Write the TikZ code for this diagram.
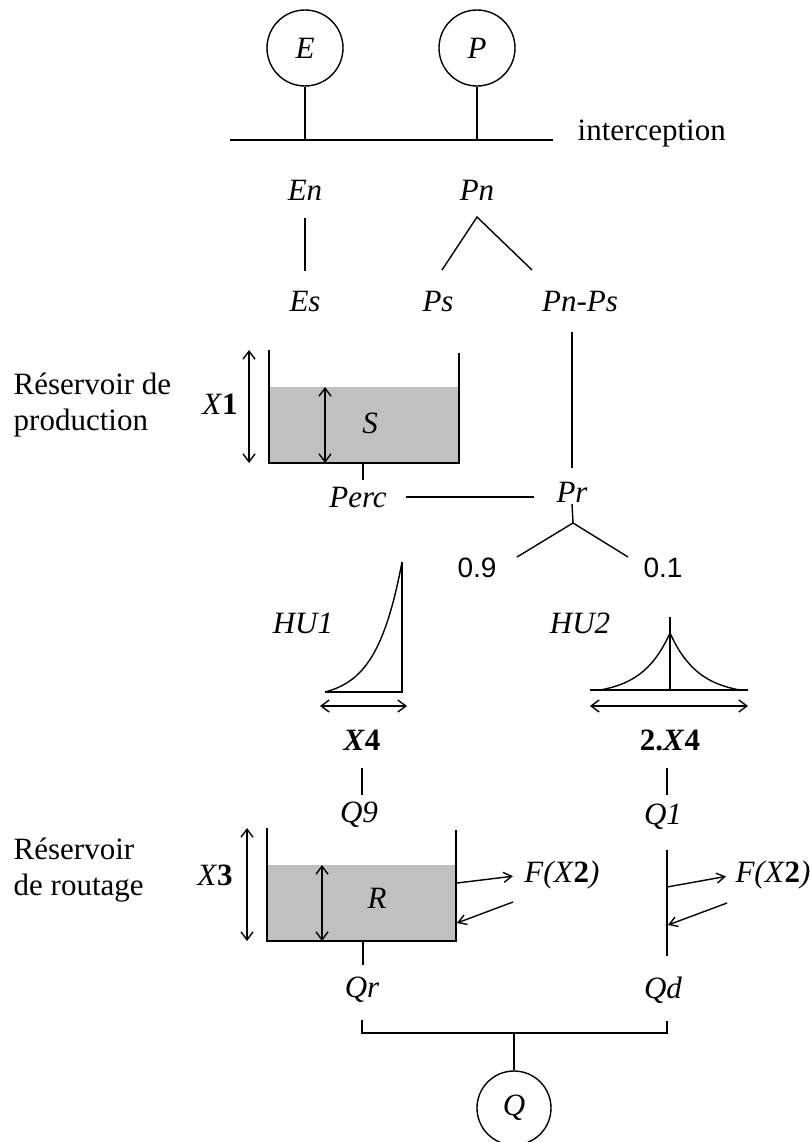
\documentclass[tikz,border=0pt]{standalone}
\usepackage{fontspec}
\setmainfont{Liberation Serif}
\newfontfamily\numfont{Liberation Sans}
\usetikzlibrary{arrows.meta}
\definecolor{tankgray}{RGB}{192,192,192}
\newcommand{\bnum}[1]{\textup{\textbf{#1}}}
\tikzset{
  lbl/.style={inner sep=1pt, font=\fontsize{31}{36}\selectfont\itshape},
  txt/.style={inner sep=0pt, align=left, anchor=west, font=\fontsize{31}{36}\selectfont},
  circ/.style={draw, circle, minimum size=76pt, inner sep=0pt, font=\fontsize{31}{36}\selectfont\itshape},
  dim/.style={{Straight Barb[length=8pt,width=12pt]}-{Straight Barb[length=8pt,width=12pt]}},
  flux/.style={-{Straight Barb[length=8pt,width=10pt]}},
}

\begin{document}
\begin{tikzpicture}[x=1pt, y=-1pt, line width=1.4pt]
    \useasboundingbox (0,0) rectangle (810,1142);

    % Inputs and interception
    \node[circ] (E) at (305,48) {E};
    \node[circ] (P) at (477,48) {P};
    \coordinate (intL) at (230,140);
    \coordinate (intR) at (553,140);
    \draw (intL) -- (intR);
    \draw (E) -- (E |- intR);
    \draw (P) -- (P |- intR);
    \node[txt, anchor=base west] (intlbl) at (577,141) {interception};

    % Net rainfall and evapotranspiration
    \node[lbl] (En) at (305,190) {En};
    \node[lbl] (Pn) at (477,190) {Pn};
    \node[lbl] (Es) at (305,302) {Es};
    \node[lbl] (Ps) at (438,302) {Ps};
    \node[lbl] (PnPs) at (580,302) {Pn-Ps};
    \draw[shorten <=16pt, shorten >=19pt] (En) -- (Es);
    \coordinate (pnfork) at (477,217);
    \coordinate (psend) at (442,270);
    \coordinate (pnpsend) at (532,270);
    \draw (psend) -- (pnfork) -- (pnpsend);

    % Production store
    \node[txt] (prodlbl) at (13,405) {Réservoir de\\production};
    \fill[tankgray] (269,387) rectangle (459,463);
    \draw (269,350) |- (459,463) -- (459,353);
    \draw[dim] (249,350) -- (249,463);
    \draw[dim] (325,387) -- (325,463);
    \node[lbl] (X1) at (220,404) {X\bnum{1}};
    \node[lbl] (S) at (370,423) {S};
    \coordinate (sbot) at (363,463);
    \node[lbl] (Perc) at (358,497) {Perc};
    \node[lbl] (Pr) at (572,492) {Pr};
    \draw (sbot) -- (sbot |- 0,480);
    \draw[shorten <=18pt, shorten >=21pt] (Perc.east) -- (Perc.east -| Pr.west);
    \draw[shorten <=18pt, shorten >=12pt] (PnPs.south -| Pr) -- (Pr.north);

    % Split of Pr
    \coordinate (prfork) at (573,523);
    \coordinate (leftend) at (517,557);
    \coordinate (rightend) at (628,557);
    \draw (Pr.south) -- (prfork);
    \draw (leftend) -- (prfork) -- (rightend);
    \node[inner sep=1pt, font=\fontsize{28}{34}\selectfont\numfont] (nine) at (477,568) {0.9};
    \node[inner sep=1pt, font=\fontsize{28}{34}\selectfont\numfont] (one) at (663,568) {0.1};

    % Unit hydrographs
    \node[lbl] (HU1) at (303,623) {HU1};
    \node[lbl] (HU2) at (580,623) {HU2};
    \draw plot[domain=0:1, samples=40] ({325+77*\x}, {692-130*(exp(3*\x)-1)/(exp(3)-1)});
    \draw (325,692) -| (402,562);
    \draw[dim] (320,706) -- (407,706);
    \draw plot[domain=0:1, samples=30] ({600+70*\x}, {690-57*(exp(2.5*\x)-1)/(exp(2.5)-1)});
    \draw plot[domain=0:1, samples=30] ({740-70*\x}, {690-57*(exp(2.5*\x)-1)/(exp(2.5)-1)});
    \draw (590,690) -- (748,690);
    \draw (670,617) -- (670,690);
    \draw[dim] (590,706) -- (748,706);
    \node[lbl] (X4) at (362,740) {\bfseries X\bnum{4}};
    \node[lbl] (X4b) at (670,740) {\bnum{2.}\bfseries X\bnum{4}};
    \node[lbl] (Q9) at (359,815) {Q9};
    \node[lbl] (Q1) at (663,817) {Q1};
    \draw[shorten <=16pt, shorten >=20pt] (X4) -- (X4 |- Q9);
    \draw[shorten <=16pt, shorten >=22pt] ([xshift=-3pt]X4b.south) -- ([xshift=-3pt]X4b.south |- Q1);

    % Routing store
    \node[txt] (routlbl) at (13,870) {Réservoir\\de routage};
    \fill[tankgray] (267,865) rectangle (456,941);
    \draw (267,828) |- (456,941) -- (456,830);
    \draw[dim] (247,828) -- (247,941);
    \draw[dim] (322,865) -- (322,941);
    \node[lbl] (X3) at (215,875) {X\bnum{3}};
    \node[lbl] (R) at (377,898) {R};
    \node[lbl] (FR) at (562,875) {F(X\bnum{2})};
    \coordinate (rout) at (457,883);
    \coordinate (rin) at (513,902);
    \draw[flux, shorten >=10pt] (rout) -- (FR.west);
    \draw[flux] (rin) -- (457,923);

    % Direct branch
    \node[lbl] (FD) at (773,875) {F(X\bnum{2})};
    \node[lbl] (Qd) at (663,990) {Qd};
    \draw[shorten <=19pt, shorten >=19pt] ([xshift=4pt]Q1.south) -- ([xshift=4pt]Q1.south |- Qd.north);
    \coordinate (dout) at (667,887);
    \coordinate (din) at (727,903);
    \draw[flux, shorten >=8pt] (dout) -- (FD.west);
    \draw[flux] (din) -- (668,925);

    % Total streamflow
    \node[lbl] (Qr) at (362,990) {Qr};
    \coordinate (rbot) at (363,941);
    \draw (rbot) -- (rbot |- 0,965);
    \coordinate (qjoin) at (514,1033);
    \draw ([yshift=-16pt]Qr.south) |- (qjoin) -| ([yshift=-16pt,xshift=4pt]Qd.south);
    \node[circ, minimum size=74pt] (Q) at (514,1108) {Q};
    \draw (qjoin) -- (Q);
\end{tikzpicture}
\end{document}
